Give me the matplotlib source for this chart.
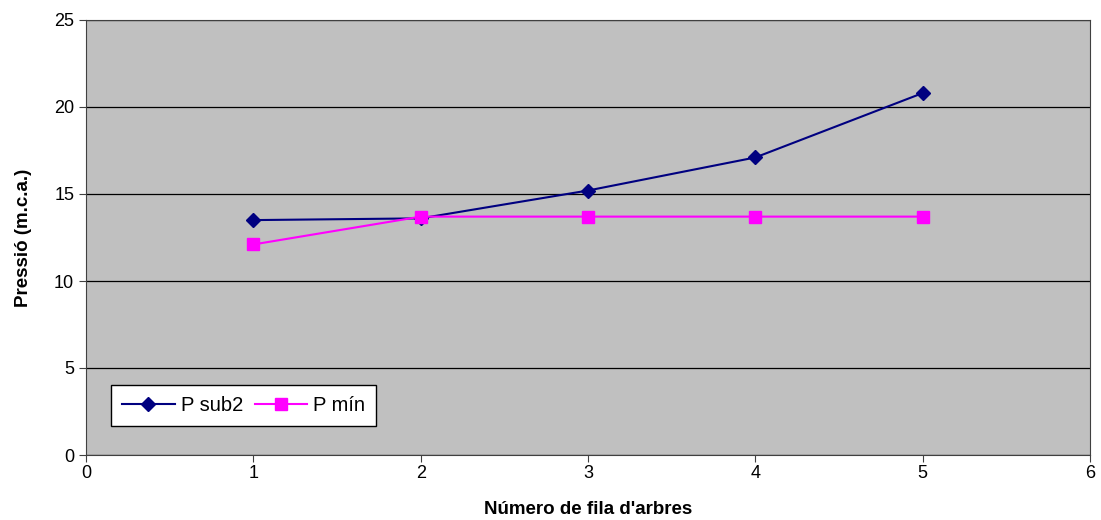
import matplotlib
matplotlib.use('Agg')
import matplotlib.pyplot as plt

plt.rcParams['font.family'] = ['Liberation Sans', 'DejaVu Sans']

# dades
files = [1, 2, 3, 4, 5]
p_sub2 = [13.5, 13.6, 15.2, 17.1, 20.8]
p_min = [12.1, 13.7, 13.7, 13.7, 13.7]

fig = plt.figure(figsize=(11.01, 5.2), dpi=100)
ax = fig.add_axes([86 / 1101, 1 - 455 / 520, 1004 / 1101, 435 / 520])
ax.set_facecolor('#C0C0C0')

ax.plot(files, p_sub2, color='#000080', marker='D', markersize=7, linewidth=1.5, label='P sub2')
ax.plot(files, p_min, color='#FF00FF', marker='s', markersize=8, linewidth=1.5, label='P mín')

ax.set_xlim(0, 6)
ax.set_ylim(0, 25)
ax.set_xticks(range(0, 7))
ax.set_yticks(range(0, 26, 5))
ax.yaxis.grid(True, color='black', linewidth=0.9)
ax.set_axisbelow(True)
ax.tick_params(labelsize=13, direction='out', length=5, color='#404040')
ax.tick_params(axis='x', pad=2)
for s in ax.spines.values():
    s.set_color('#404040')

ax.set_xlabel("Número de fila d'arbres", fontsize=13.5, fontweight='bold', labelpad=14)
ax.set_ylabel('Pressió (m.c.a.)', fontsize=13.5, fontweight='bold', labelpad=16)

leg = ax.legend(loc='lower left', bbox_to_anchor=(0.025, 0.067), ncol=2, fontsize=14.5,
                frameon=True, fancybox=False, edgecolor='black', facecolor='white',
                framealpha=1, handlelength=2.6, columnspacing=0.6, handletextpad=0.3,
                borderpad=0.55, borderaxespad=0)
leg.get_frame().set_linewidth(1)

fig.savefig('out.png', dpi=100)
